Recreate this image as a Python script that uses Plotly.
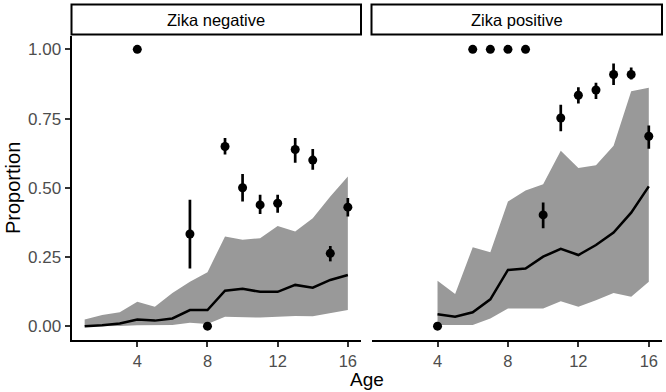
import plotly.graph_objects as go

# ---- data ----
neg_band_age = list(range(1, 17))
neg_mean = [0.0, 0.003, 0.01, 0.024, 0.02, 0.028, 0.058, 0.058, 0.128, 0.135, 0.124, 0.124, 0.149, 0.139, 0.167, 0.185]
neg_lower = [0.0, 0.0, 0.001, 0.003, 0.003, 0.004, 0.012, 0.008, 0.034, 0.033, 0.031, 0.034, 0.037, 0.036, 0.046, 0.058]
neg_upper = [0.024, 0.04, 0.05, 0.088, 0.07, 0.12, 0.16, 0.195, 0.324, 0.312, 0.318, 0.362, 0.342, 0.39, 0.468, 0.541]

neg_pt_age = [4, 7, 8, 9, 10, 11, 12, 13, 14, 15, 16]
neg_prop = [1.0, 0.333, 0.0, 0.649, 0.50, 0.438, 0.444, 0.638, 0.60, 0.263, 0.43]
neg_lo = [1.0, 0.208, 0.0, 0.62, 0.45, 0.405, 0.41, 0.59, 0.565, 0.234, 0.396]
neg_hi = [1.0, 0.457, 0.0, 0.68, 0.55, 0.475, 0.475, 0.68, 0.64, 0.29, 0.463]

pos_band_age = list(range(4, 17))
pos_mean = [0.043, 0.034, 0.05, 0.097, 0.203, 0.208, 0.251, 0.279, 0.257, 0.293, 0.338, 0.41, 0.505]
pos_lower = [0.004, 0.004, 0.004, 0.028, 0.064, 0.064, 0.064, 0.09, 0.07, 0.094, 0.12, 0.106, 0.16]
pos_upper = [0.164, 0.116, 0.285, 0.267, 0.45, 0.49, 0.513, 0.634, 0.571, 0.581, 0.652, 0.849, 0.861]

pos_pt_age = [4, 6, 7, 8, 9, 10, 11, 12, 13, 14, 15, 16]
pos_prop = [0.0, 1.0, 1.0, 1.0, 1.0, 0.402, 0.752, 0.834, 0.853, 0.909, 0.909, 0.686]
pos_lo = [0.0, 1.0, 1.0, 1.0, 1.0, 0.354, 0.704, 0.804, 0.821, 0.871, 0.891, 0.641]
pos_hi = [0.0, 1.0, 1.0, 1.0, 1.0, 0.447, 0.80, 0.863, 0.879, 0.949, 0.934, 0.725]

panel_titles = ["Zika negative", "Zika positive"]
x_ticks = [4, 8, 12, 16]
y_ticks = [0, 0.25, 0.5, 0.75, 1.0]
y_ticklabels = ["0.00", "0.25", "0.50", "0.75", "1.00"]

W, H = 666, 392
BAND = "#999999"
FONT = "Liberation Sans, Arial, sans-serif"

fig = go.Figure()

panels = [
    (neg_band_age, neg_mean, neg_lower, neg_upper, neg_pt_age, neg_prop, neg_lo, neg_hi, "x", "y"),
    (pos_band_age, pos_mean, pos_lower, pos_upper, pos_pt_age, pos_prop, pos_lo, pos_hi, "x2", "y2"),
]
for band_age, mean, lower, upper, pt_age, prop, lo, hi, xa, ya in panels:
    fig.add_trace(go.Scatter(x=band_age, y=lower, mode="lines", line=dict(width=0, color=BAND),
                             xaxis=xa, yaxis=ya, showlegend=False, hoverinfo="skip"))
    fig.add_trace(go.Scatter(x=band_age, y=upper, mode="lines", line=dict(width=0, color=BAND),
                             fill="tonexty", fillcolor=BAND, xaxis=xa, yaxis=ya, showlegend=False))
    fig.add_trace(go.Scatter(x=band_age, y=mean, mode="lines", line=dict(width=2.5, color="black"),
                             xaxis=xa, yaxis=ya, showlegend=False))
    fig.add_trace(go.Scatter(
        x=pt_age, y=prop, mode="markers",
        marker=dict(size=9, color="black"),
        error_y=dict(type="data", symmetric=False,
                     array=[h - p for h, p in zip(hi, prop)],
                     arrayminus=[p - l for p, l in zip(prop, lo)],
                     width=0, thickness=2.7, color="black"),
        xaxis=xa, yaxis=ya, showlegend=False))

px = lambda v: v / W
py = lambda v: 1 - v / H

xl = [px(71.5), px(361)]
xr = [px(371.5), px(662)]
yd = [py(340), py(35.5)]

axis_common = dict(range=[0.25, 16.75], tickvals=x_ticks, ticks="outside", ticklen=5, tickwidth=2,
                   tickcolor="#333333", showline=True, linewidth=2, linecolor="black",
                   showgrid=False, zeroline=False,
                   tickfont=dict(family=FONT, size=16.5, color="#4D4D4D"))
fig.update_layout(
    width=W, height=H, margin=dict(l=0, r=0, t=0, b=0),
    plot_bgcolor="white", paper_bgcolor="white",
    xaxis=dict(domain=xl, anchor="y", **axis_common),
    xaxis2=dict(domain=xr, anchor="y2", **axis_common),
    yaxis=dict(domain=yd, anchor="x", range=[-0.05, 1.05], tickvals=y_ticks, ticktext=y_ticklabels,
               ticks="outside", ticklen=5, tickwidth=2, tickcolor="#333333",
               showline=True, linewidth=2, linecolor="black", showgrid=False, zeroline=False,
               tickfont=dict(family=FONT, size=17, color="#4D4D4D")),
    yaxis2=dict(domain=yd, anchor="x2", range=[-0.05, 1.05], showticklabels=False, ticks="",
                showline=False, showgrid=False, zeroline=False),
)

# strips
for dom, title in zip([xl, xr], panel_titles):
    fig.add_shape(type="rect", xref="paper", yref="paper", x0=dom[0], x1=dom[1],
                  y0=py(34.5), y1=py(4.5), line=dict(color="black", width=2), fillcolor="white")
    fig.add_annotation(x=(dom[0] + dom[1]) / 2, y=py(19.5), xref="paper", yref="paper",
                       text=title, showarrow=False, xanchor="center", yanchor="middle",
                       font=dict(family=FONT, size=16.5, color="black"))

fig.add_annotation(x=px(366.5), y=py(379.5), xref="paper", yref="paper", text="Age", showarrow=False,
                   xanchor="center", yanchor="middle", font=dict(family=FONT, size=19, color="black"))
fig.add_annotation(x=px(13), y=py(188), xref="paper", yref="paper", text="Proportion", showarrow=False,
                   textangle=-90, xanchor="center", yanchor="middle",
                   font=dict(family=FONT, size=20, color="black"))

fig.write_html("out.html", config={"displayModeBar": False},
               post_script="document.body.style.margin='0';document.body.style.overflow='hidden';")
